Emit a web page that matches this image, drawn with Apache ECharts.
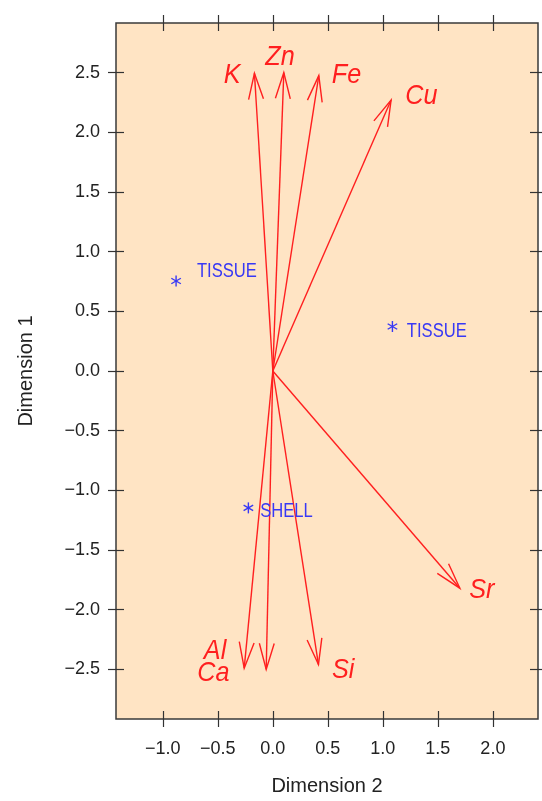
<!DOCTYPE html>
<html>
<head>
<meta charset="utf-8">
<script src="https://cdn.jsdelivr.net/npm/echarts@6/dist/echarts.min.js"></script>
<style>
html,body{margin:0;padding:0;background:#fff;}
#chart{width:542px;height:801px;}
</style>
</head>
<body>
<div id="chart"></div>
<script>
// Variable loadings (arrows from origin)
const elements = ['K', 'Zn', 'Fe', 'Cu', 'Sr', 'Al', 'Ca', 'Si'];
const loadX = [-0.167, 0.10, 0.418, 1.075, 1.70, -0.26, -0.06, 0.415];
const loadY = [2.495, 2.50, 2.475, 2.27, -1.82, -2.49, -2.50, -2.46];
// Element label anchors (data coordinates)
const elemLabelX = [-0.37, 0.066, 0.67, 1.35, 1.90, -0.525, -0.54, 0.64];
const elemLabelY = [2.48, 2.63, 2.48, 2.30, -1.84, -2.35, -2.53, -2.51];
// Sample scores
const samples = ['TISSUE', 'TISSUE', 'SHELL'];
const sampleX = [-0.879, 1.087, -0.222];
const sampleY = [0.754, 0.373, -1.147];
const sampleLabelX = [-0.69, 1.218, -0.115];
const sampleLabelY = [0.83, 0.328, -1.18];
// Axes
const xTicks = [-1.0, -0.5, 0.0, 0.5, 1.0, 1.5, 2.0];
const yTicks = [-2.5, -2.0, -1.5, -1.0, -0.5, 0.0, 0.5, 1.0, 1.5, 2.0, 2.5];
const XMIN = -1.425, XMAX = 2.41, YMIN = -2.916, YMAX = 2.916;

const RED = '#ff1f1f', BLUE = '#3838f5', AXC = '#333';
const fmt = v => (v < 0 ? '\u2212' : '') + Math.abs(v).toFixed(1);

function mkX(pos, inside, labels) {
  return {
    type: 'value', position: pos, min: XMIN, max: XMAX,
    axisLine: {show: false, onZero: false}, splitLine: {show: false},
    axisTick: {show: true, inside: inside, length: 8, customValues: xTicks, lineStyle: {color: AXC, width: 1.2}},
    axisLabel: labels ? {show: true, customValues: xTicks, formatter: fmt, margin: 21, fontSize: 18,
      fontFamily: 'Liberation Sans', color: '#222'} : {show: false},
    name: labels ? 'Dimension 2' : '', nameLocation: 'middle', nameGap: 57,
    nameTextStyle: {fontSize: 20, fontFamily: 'Liberation Sans', color: '#222'}
  };
}
function mkY(pos, inside, labels) {
  return {
    type: 'value', position: pos, min: YMIN, max: YMAX,
    axisLine: {show: false, onZero: false}, splitLine: {show: false},
    axisTick: {show: true, inside: inside, length: 8, customValues: yTicks, lineStyle: {color: AXC, width: 1.2}},
    axisLabel: labels ? {show: true, customValues: yTicks, formatter: fmt, margin: 16, fontSize: 18,
      fontFamily: 'Liberation Sans', color: '#222'} : {show: false},
    name: labels ? 'Dimension 1' : '', nameLocation: 'middle', nameGap: 80,
    nameTextStyle: {fontSize: 20, fontFamily: 'Liberation Sans', color: '#222'}
  };
}

const chart = echarts.init(document.getElementById('chart'), null, {renderer: 'canvas'});
chart.setOption({
  animation: false,
  backgroundColor: '#fff',
  grid: {left: 116, right: 4, top: 23, bottom: 80, show: true, backgroundColor: '#ffe4c4',
    borderColor: '#3a3a3a', borderWidth: 1.5},
  xAxis: [mkX('bottom', false, true), mkX('bottom', true, false), mkX('top', false, false), mkX('top', true, false)],
  yAxis: [mkY('left', false, true), mkY('left', true, false), mkY('right', false, false), mkY('right', true, false)],
  series: [
    {
      type: 'custom', xAxisIndex: 0, yAxisIndex: 0,
      data: elements.map((e, i) => [loadX[i], loadY[i]]),
      renderItem: function (params, api) {
        const o = api.coord([0, 0]);
        const t = api.coord([api.value(0), api.value(1)]);
        const ang = Math.atan2(t[1] - o[1], t[0] - o[0]);
        const L = 27, a = 16 * Math.PI / 180;
        const w1 = [t[0] - L * Math.cos(ang - a), t[1] - L * Math.sin(ang - a)];
        const w2 = [t[0] - L * Math.cos(ang + a), t[1] - L * Math.sin(ang + a)];
        return {type: 'group', children: [
          {type: 'line', shape: {x1: o[0], y1: o[1], x2: t[0], y2: t[1]}, style: {stroke: RED, lineWidth: 1.4}},
          {type: 'polyline', shape: {points: [w1, t, w2]}, style: {stroke: RED, fill: null, lineWidth: 1.4}}
        ]};
      }
    },
    {
      type: 'custom', xAxisIndex: 0, yAxisIndex: 0,
      data: elements.map((e, i) => [elemLabelX[i], elemLabelY[i]]),
      renderItem: function (params, api) {
        const p = api.coord([api.value(0), api.value(1)]);
        return {type: 'text', x: p[0], y: p[1], scaleX: 0.9,
          style: {text: elements[params.dataIndex], fill: RED, fontSize: 28, fontStyle: 'italic',
            fontFamily: 'Liberation Sans', align: 'center', verticalAlign: 'middle'}};
      }
    },
    {
      type: 'custom', xAxisIndex: 0, yAxisIndex: 0,
      data: samples.map((s, i) => [sampleX[i], sampleY[i]]),
      renderItem: function (params, api) {
        const p = api.coord([api.value(0), api.value(1)]);
        const r = 5.5, c = Math.cos(Math.PI / 6) * r, s = Math.sin(Math.PI / 6) * r;
        const st = {stroke: BLUE, lineWidth: 1.4};
        return {type: 'group', children: [
          {type: 'line', shape: {x1: p[0], y1: p[1] - r, x2: p[0], y2: p[1] + r}, style: st},
          {type: 'line', shape: {x1: p[0] - c, y1: p[1] - s, x2: p[0] + c, y2: p[1] + s}, style: st},
          {type: 'line', shape: {x1: p[0] - c, y1: p[1] + s, x2: p[0] + c, y2: p[1] - s}, style: st}
        ]};
      }
    },
    {
      type: 'custom', xAxisIndex: 0, yAxisIndex: 0,
      data: samples.map((s, i) => [sampleLabelX[i], sampleLabelY[i]]),
      renderItem: function (params, api) {
        const p = api.coord([api.value(0), api.value(1)]);
        return {type: 'text', x: p[0], y: p[1], scaleX: 0.83,
          style: {text: samples[params.dataIndex], fill: BLUE, fontSize: 20,
            fontFamily: 'Liberation Sans', align: 'left', verticalAlign: 'middle'}};
      }
    }
  ]
});
</script>
</body>
</html>
